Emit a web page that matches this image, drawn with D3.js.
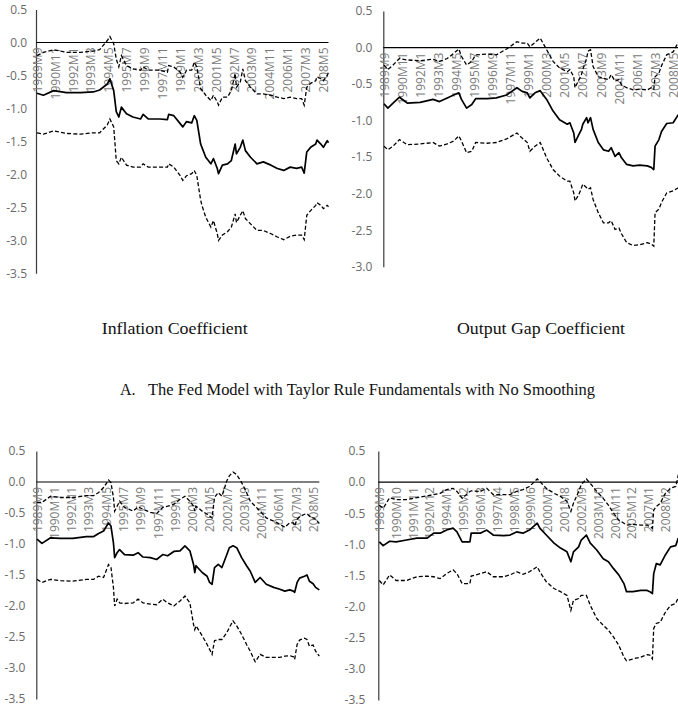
<!DOCTYPE html>
<html>
<head>
<meta charset="utf-8">
<script src="https://cdn.jsdelivr.net/npm/d3@7"></script>
<style>
  html, body { margin: 0; padding: 0; background: #fff; }
  svg { display: block; }
</style>
</head>
<body>
<svg id="chart" width="678" height="714"></svg>
<script>
// ---------------- DATA ----------------
// month index 0 = 1989M9
const labels14 = ["1989M9","1990M11","1992M1","1993M3","1994M5","1995M7","1996M9","1997M11","1999M1","2000M3","2001M5","2002M7","2003M9","2004M11","2006M1","2007M3","2008M5"];
const labels13 = ["1989M9","1990M10","1991M11","1992M12","1994M1","1995M2","1996M3","1997M4","1998M5","1999M6","2000M7","2001M8","2002M9","2003M10","2004M11","2005M12","2007M1","2008M2"];
const yTicksA = [0.5,0,-0.5,-1,-1.5,-2,-2.5,-3,-3.5];
const yTicksB = [0.5,0,-0.5,-1,-1.5,-2,-2.5,-3];

// Panel 1: Inflation coefficient (top-left)
const p1Months = [0,5,13,23,34,44,49,55,57,60,62,64,66,70,75,81,83,87,96,102,103,107,112,114,117,121,123,125,128,129,132,136,138,141,142,145,149,152,155,156,159,161,163,167,172,177,183,188,193,198,203,207,209,211,214,218,219,222,224,227,228];
const p1Mid = [-0.77,-0.80,-0.73,-0.76,-0.76,-0.75,-0.72,-0.63,-0.55,-0.73,
  -1.05,-1.13,-0.98,-1.08,-1.13,-1.16,-1.09,-1.16,-1.16,-1.17,
  -1.09,-1.11,-1.23,-1.28,-1.20,-1.22,-1.11,-1.18,-1.54,-1.59,
  -1.74,-1.84,-1.76,-1.91,-1.99,-1.86,-1.84,-1.79,-1.54,-1.69,
  -1.59,-1.48,-1.64,-1.74,-1.84,-1.81,-1.86,-1.91,-1.94,-1.89,
  -1.91,-1.89,-1.98,-1.66,-1.59,-1.54,-1.48,-1.54,-1.59,-1.49,
  -1.52];
const p1Upper = [-0.20,-0.15,-0.11,-0.15,-0.15,-0.13,-0.11,0.03,0.09,-0.02,
  -0.25,-0.37,-0.20,-0.35,-0.40,-0.42,-0.37,-0.42,-0.42,-0.45,
  -0.35,-0.37,-0.45,-0.53,-0.42,-0.42,-0.30,-0.37,-0.70,-0.72,
  -0.80,-0.88,-0.80,-0.90,-0.95,-0.83,-0.83,-0.73,-0.47,-0.68,
  -0.60,-0.40,-0.58,-0.68,-0.78,-0.78,-0.80,-0.83,-0.85,-0.83,
  -0.85,-0.85,-0.95,-0.68,-0.62,-0.58,-0.52,-0.55,-0.58,-0.50,
  -0.45];
const p1Lower = [-1.37,-1.39,-1.34,-1.38,-1.39,-1.37,-1.37,-1.25,-1.16,-1.28,
  -1.79,-1.84,-1.74,-1.86,-1.89,-1.89,-1.84,-1.89,-1.89,-1.89,
  -1.84,-1.89,-2.02,-2.09,-2.02,-1.99,-1.94,-2.02,-2.39,-2.47,
  -2.65,-2.80,-2.70,-2.90,-3.00,-2.92,-2.87,-2.80,-2.60,-2.73,
  -2.62,-2.55,-2.67,-2.75,-2.85,-2.85,-2.90,-2.95,-2.99,-2.94,
  -2.92,-2.92,-2.99,-2.62,-2.55,-2.47,-2.43,-2.47,-2.52,-2.47,
  -2.49];

// Panel 2: Output gap coefficient (top-right)
const p2Months = [0,3,7,12,18,28,38,43,49,54,58,60,64,68,71,80,87,95,103,107,111,113,117,121,126,131,136,142,144,147,148,151,153,154,157,158,160,162,166,170,174,176,179,182,184,188,193,198,204,207,209,210,213,215,219,224,228];
const p2Mid = [-0.77,-0.83,-0.76,-0.68,-0.76,-0.75,-0.71,-0.74,-0.69,-0.65,
  -0.62,-0.71,-0.83,-0.78,-0.70,-0.70,-0.69,-0.65,-0.55,-0.60,
  -0.62,-0.69,-0.62,-0.59,-0.71,-0.87,-0.99,-1.05,-1.03,-1.17,
  -1.30,-1.19,-1.12,-1.05,-0.96,-1.03,-0.96,-1.12,-1.30,-1.40,
  -1.42,-1.37,-1.49,-1.44,-1.51,-1.60,-1.62,-1.61,-1.62,-1.64,
  -1.67,-1.35,-1.26,-1.15,-1.04,-1.03,-0.92];
const p2Upper = [-0.24,-0.30,-0.24,-0.15,-0.17,-0.18,-0.16,-0.19,-0.15,-0.08,
  -0.02,-0.12,-0.24,-0.19,-0.10,-0.09,-0.10,-0.02,0.08,0.06,
  0.06,0.01,0.07,0.13,-0.03,-0.19,-0.28,-0.33,-0.30,-0.40,
  -0.55,-0.44,-0.37,-0.30,-0.15,-0.05,-0.03,-0.26,-0.40,-0.42,
  -0.44,-0.37,-0.46,-0.44,-0.51,-0.55,-0.58,-0.57,-0.58,-0.55,
  -0.57,-0.40,-0.35,-0.25,-0.10,-0.06,0.07];
const p2Lower = [-1.35,-1.40,-1.35,-1.26,-1.33,-1.32,-1.30,-1.35,-1.32,-1.28,
  -1.21,-1.28,-1.44,-1.42,-1.30,-1.31,-1.30,-1.25,-1.17,-1.24,
  -1.30,-1.42,-1.35,-1.30,-1.51,-1.67,-1.76,-1.83,-1.83,-1.99,
  -2.10,-2.01,-1.92,-1.87,-1.92,-1.94,-1.92,-2.08,-2.26,-2.40,
  -2.40,-2.37,-2.49,-2.47,-2.55,-2.67,-2.71,-2.70,-2.67,-2.69,
  -2.72,-2.26,-2.21,-2.12,-1.99,-1.96,-1.92];

// Panel 3: Inflation coefficient (bottom-left)
const p3Months = [0,4,11,19,29,40,46,50,54,58,60,62,63,65,67,71,78,82,86,92,97,102,106,111,116,120,124,127,128,129,134,138,140,142,144,147,150,154,156,159,162,166,170,173,177,181,186,192,197,201,205,208,209,211,213,217,219,221,224,226,229];
const p3Mid = [-0.92,-0.99,-0.90,-0.91,-0.91,-0.88,-0.88,-0.83,-0.79,-0.66,
  -0.71,-0.98,-1.22,-1.14,-1.09,-1.17,-1.18,-1.14,-1.21,-1.22,
  -1.25,-1.17,-1.19,-1.12,-1.11,-1.03,-1.11,-1.33,-1.46,-1.35,
  -1.46,-1.52,-1.62,-1.65,-1.38,-1.33,-1.38,-1.17,-1.06,-1.03,
  -1.06,-1.22,-1.35,-1.44,-1.62,-1.54,-1.65,-1.70,-1.73,-1.76,
  -1.74,-1.76,-1.78,-1.62,-1.55,-1.52,-1.50,-1.60,-1.64,-1.70,
  -1.74];
const p3Upper = [-0.33,-0.33,-0.23,-0.25,-0.25,-0.22,-0.22,-0.17,-0.09,0.03,
  -0.01,-0.25,-0.47,-0.39,-0.31,-0.41,-0.47,-0.40,-0.44,-0.49,
  -0.51,-0.41,-0.39,-0.36,-0.28,-0.23,-0.31,-0.39,-0.47,-0.39,
  -0.47,-0.52,-0.55,-0.58,-0.25,-0.17,-0.23,0.02,0.10,0.16,
  0.12,-0.01,-0.17,-0.31,-0.39,-0.47,-0.58,-0.63,-0.68,-0.73,
  -0.66,-0.66,-0.71,-0.60,-0.56,-0.52,-0.51,-0.55,-0.58,-0.60,
  -0.67];
const p3Lower = [-1.57,-1.62,-1.57,-1.59,-1.60,-1.57,-1.57,-1.52,-1.54,-1.33,
  -1.38,-1.70,-2.00,-1.89,-1.95,-1.96,-1.95,-1.89,-1.95,-1.97,
  -1.98,-1.89,-1.95,-2.00,-1.92,-1.84,-1.95,-2.30,-2.38,-2.32,
  -2.48,-2.62,-2.70,-2.78,-2.56,-2.54,-2.54,-2.43,-2.35,-2.24,
  -2.32,-2.46,-2.62,-2.73,-2.90,-2.78,-2.83,-2.83,-2.83,-2.81,
  -2.80,-2.82,-2.86,-2.62,-2.55,-2.52,-2.54,-2.65,-2.63,-2.73,
  -2.81];

// Panel 4: Output gap coefficient (bottom-right)
const p4Months = [0,3,8,13,21,29,37,42,47,52,57,60,64,70,71,78,83,88,96,101,106,111,116,122,124,129,135,140,145,148,150,154,156,160,163,168,173,177,181,185,189,191,196,202,207,209,211,212,214,217,221,225,229,230,231];
const p4Mid = [-0.96,-1.02,-0.95,-0.96,-0.93,-0.90,-0.90,-0.82,-0.82,-0.77,
  -0.74,-0.80,-0.96,-0.96,-0.82,-0.82,-0.77,-0.85,-0.86,-0.85,
  -0.80,-0.82,-0.77,-0.66,-0.74,-0.85,-0.98,-1.06,-1.12,-1.28,
  -1.12,-1.04,-0.93,-0.85,-0.98,-1.09,-1.23,-1.28,-1.39,-1.49,
  -1.63,-1.76,-1.76,-1.74,-1.74,-1.76,-1.79,-1.47,-1.31,-1.33,
  -1.17,-1.04,-1.02,-0.96,-0.90];
const p4Upper = [-0.37,-0.42,-0.25,-0.28,-0.28,-0.25,-0.22,-0.20,-0.18,-0.12,
  -0.10,-0.15,-0.26,-0.15,-0.14,-0.15,-0.10,-0.20,-0.20,-0.20,
  -0.15,-0.12,-0.07,0.05,0.01,-0.10,-0.18,-0.23,-0.31,-0.47,
  -0.34,-0.15,-0.04,0.05,-0.02,-0.15,-0.26,-0.37,-0.50,-0.61,
  -0.66,-0.69,-0.68,-0.69,-0.69,-0.72,-0.74,-0.45,-0.39,-0.34,
  -0.18,-0.10,-0.07,0.01,0.12];
const p4Lower = [-1.58,-1.65,-1.49,-1.58,-1.58,-1.52,-1.51,-1.52,-1.55,-1.47,
  -1.41,-1.47,-1.63,-1.63,-1.51,-1.47,-1.44,-1.52,-1.52,-1.49,
  -1.44,-1.48,-1.44,-1.36,-1.44,-1.60,-1.71,-1.76,-1.82,-2.06,
  -1.90,-1.87,-1.82,-1.82,-1.98,-2.19,-2.30,-2.38,-2.49,-2.62,
  -2.81,-2.87,-2.84,-2.81,-2.77,-2.78,-2.84,-2.35,-2.27,-2.25,
  -2.09,-1.98,-1.95,-1.90,-1.87];

const captionLeft = "Inflation Coefficient";
const captionRight = "Output Gap Coefficient";
const titleLabel = "A.";
const titleText = "The Fed Model with Taylor Rule Fundamentals with No Smoothing";

// ---------------- DRAW ----------------
const svg = d3.select("#chart");
const monthIndex = s => { const [y, m] = s.split("M").map(Number); return (y - 1989) * 12 + (m - 9); };

function panel(cfg) {
  const x = d3.scaleLinear().domain([0, cfg.nMax]).range([cfg.x0, cfg.x1]);
  const y = d3.scaleLinear().domain([cfg.yTicks[cfg.yTicks.length - 1], cfg.yTicks[0]]).range([cfg.yBottom, cfg.yTop]);
  const g = svg.append("g");

  // y axis
  const ya = g.append("g").attr("transform", `translate(${cfg.axisX},0)`)
    .call(d3.axisLeft(y).tickValues(cfg.yTicks).tickFormat(v => v.toFixed(1)).tickSize(0).tickPadding(cfg.pad));
  ya.select(".domain").attr("stroke", "#3a3a3a").attr("stroke-width", 1.2);
  ya.selectAll("text").attr("font-family", "Open Sans, sans-serif").attr("font-size", 12).attr("fill", "#6a6a6a");

  // x category labels (rotated) below zero line
  const xa = g.append("g").attr("transform", `translate(0,${y(0)})`)
    .call(d3.axisBottom(x).tickValues(cfg.labels.map(monthIndex)).tickFormat((d, i) => cfg.labels[i]).tickSize(0));
  xa.select(".domain").remove();
  xa.selectAll("text")
    .attr("font-family", "Open Sans, sans-serif").attr("font-size", 12).attr("fill", "#7a7a7a")
    .attr("text-anchor", "end").attr("transform", "rotate(-90)")
    .attr("x", -5).attr("y", 0).attr("dy", "0.35em");

  // zero line
  g.append("line").attr("x1", cfg.axisX).attr("x2", cfg.x1).attr("y1", y(0)).attr("y2", y(0))
    .attr("stroke", "#000").attr("stroke-width", 1.2);

  const line = d3.line().x(d => x(d[0])).y(d => y(d[1]));
  const mk = vals => cfg.months.map((m, i) => [m, vals[i]]);
  g.append("path").datum(mk(cfg.upper)).attr("d", line).attr("fill", "none")
    .attr("stroke", "#000").attr("stroke-width", 1.3).attr("stroke-dasharray", "4,2.2");
  g.append("path").datum(mk(cfg.lower)).attr("d", line).attr("fill", "none")
    .attr("stroke", "#000").attr("stroke-width", 1.3).attr("stroke-dasharray", "4,2.2");
  g.append("path").datum(mk(cfg.mid)).attr("d", line).attr("fill", "none")
    .attr("stroke", "#000").attr("stroke-width", 1.7).attr("stroke-linejoin", "round");
}

panel({ months: p1Months, mid: p1Mid, upper: p1Upper, lower: p1Lower, labels: labels14, yTicks: yTicksA,
  nMax: 228, x0: 37, x1: 328.5, axisX: 36, yTop: 9.5, yBottom: 273.3, pad: 9 });
panel({ months: p2Months, mid: p2Mid, upper: p2Upper, lower: p2Lower, labels: labels14, yTicks: yTicksB,
  nMax: 228, x0: 384, x1: 678.3, axisX: 383.3, yTop: 11, yBottom: 266.7, pad: 11 });
panel({ months: p3Months, mid: p3Mid, upper: p3Upper, lower: p3Lower, labels: labels14, yTicks: yTicksA,
  nMax: 229, x0: 37, x1: 319.3, axisX: 36.3, yTop: 451, yBottom: 699, pad: 11 });
panel({ months: p4Months, mid: p4Mid, upper: p4Upper, lower: p4Lower, labels: labels13, yTicks: yTicksA,
  nMax: 231, x0: 379.3, x1: 678.3, axisX: 378.3, yTop: 451, yBottom: 700, pad: 13 });

// captions
const serif = "Liberation Serif, Times New Roman, serif";
svg.append("text").attr("x", 174.7).attr("y", 334).attr("text-anchor", "middle")
  .attr("font-family", serif).attr("font-size", 17.5).attr("fill", "#111")
  .attr("textLength", 146).attr("lengthAdjust", "spacingAndGlyphs").text(captionLeft);
svg.append("text").attr("x", 541).attr("y", 334).attr("text-anchor", "middle")
  .attr("font-family", serif).attr("font-size", 17.5).attr("fill", "#111")
  .attr("textLength", 168).attr("lengthAdjust", "spacingAndGlyphs").text(captionRight);
svg.append("text").attr("x", 120).attr("y", 395)
  .attr("font-family", serif).attr("font-size", 16).attr("fill", "#111").text(titleLabel);
svg.append("text").attr("x", 148).attr("y", 395)
  .attr("font-family", serif).attr("font-size", 16).attr("fill", "#111")
  .attr("textLength", 447).attr("lengthAdjust", "spacingAndGlyphs").text(titleText);
</script>
</body>
</html>
